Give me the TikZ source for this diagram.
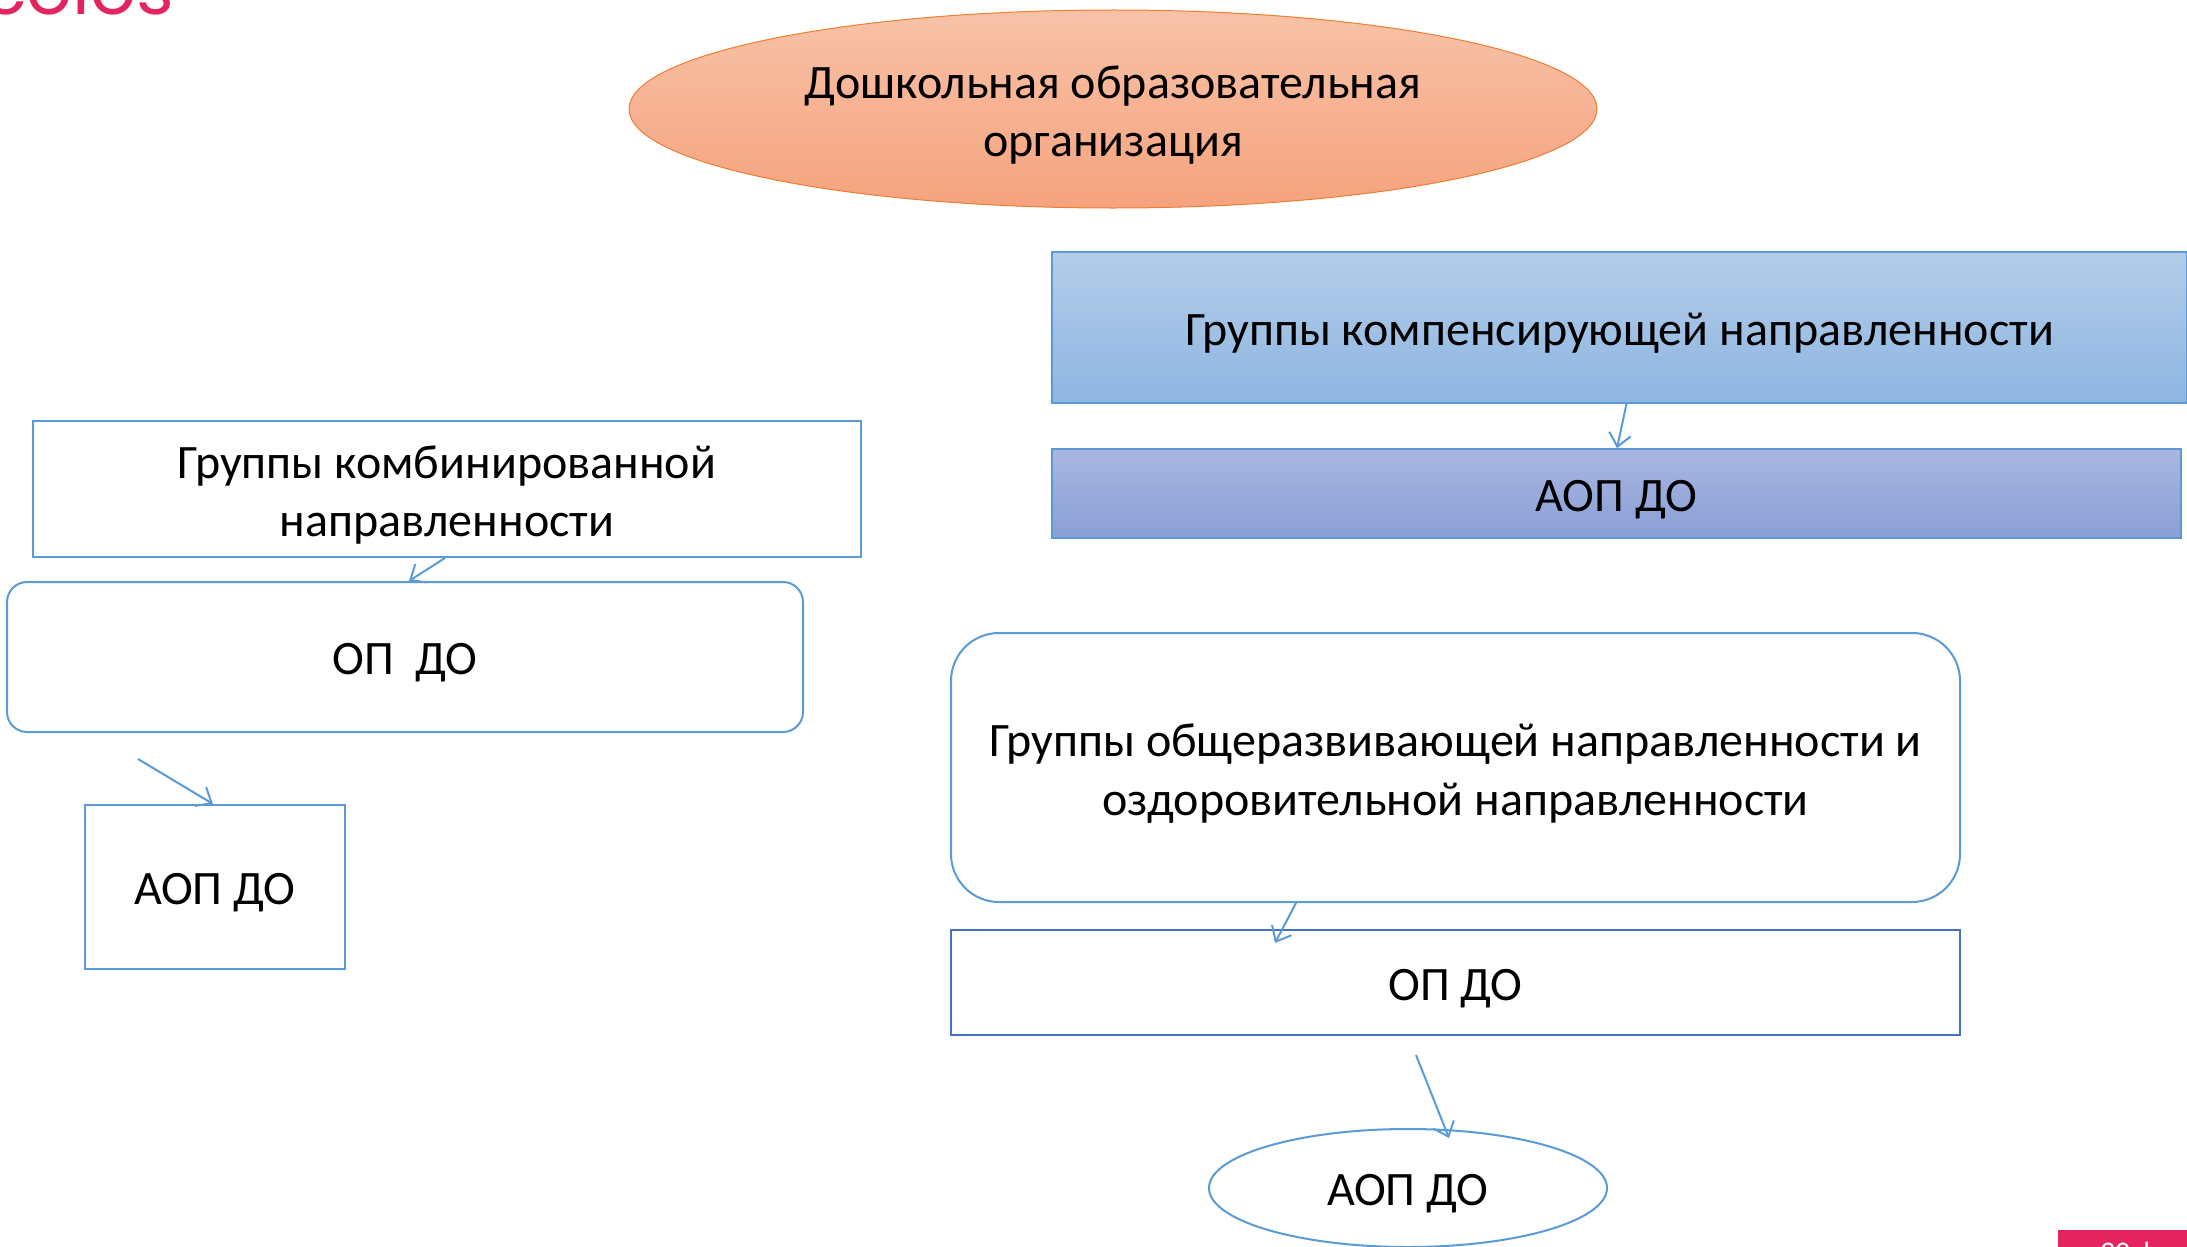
\documentclass[tikz,border=0pt]{standalone}
\usepackage{fontspec}
\setmainfont{Carlito}
\usetikzlibrary{shapes.geometric,arrows.meta}
\definecolor{bl}{HTML}{5B9BD5}
\definecolor{dbl}{HTML}{4472C4}
\definecolor{orb}{HTML}{ED7D31}
\definecolor{pk}{HTML}{E3245F}
\definecolor{orgtop}{HTML}{F8C2A8}
\definecolor{orgbot}{HTML}{F5A37D}
\definecolor{kotop}{HTML}{B4CDE9}
\definecolor{kobot}{HTML}{8EB5E1}
\definecolor{aotop}{HTML}{A9B6E0}
\definecolor{aobot}{HTML}{899FD6}
\tikzset{
  lbl/.style={font=\fontsize{48}{58.5}\selectfont, align=center, text=black, inner sep=0pt},
  box/.style={draw=bl, line width=2pt, fill=white, inner sep=0pt},
  arr/.style={draw=bl, line width=2pt, -{Straight Barb[length=13pt,width=22pt,line width=2pt]}},
}
\newcommand{\lab}[2]{\node[lbl] (#1-t) at ([yshift=-6pt]#1.center) {#2};}
\begin{document}
\begin{tikzpicture}[x=1pt,y=-1pt]
\useasboundingbox (0,0) rectangle (2187,1247);
% corner fragments
\begin{scope}
\clip (0,0) rectangle (300,16);
\node[anchor=base west, inner sep=0pt, text=pk, font=\fontsize{72}{72}\selectfont\fontspec{Poppins}] (logo) at (-17,15) {colos};
\end{scope}
\begin{scope}
\clip (2058,1230) rectangle (2187,1247);
\fill[pk] (2058,1230) rectangle (2187,1247);
\node[anchor=base west, inner sep=0pt, text=white, font=\fontsize{30}{30}\selectfont] (date) at (2100,1262) {30 февраля};
\end{scope}
% nodes
\node[ellipse, draw=orb, line width=1pt, top color=orgtop, bottom color=orgbot, minimum width=968, minimum height=198, inner sep=0pt] (org) at (1113,109) {};
\node[rectangle, draw=bl, line width=1.5pt, top color=kotop, bottom color=kobot, minimum width=1135, minimum height=151, inner sep=0pt] (komp) at (1619.5,327.5) {};
\node[rectangle, draw=bl, line width=1.5pt, top color=aotop, bottom color=aobot, minimum width=1129, minimum height=89, inner sep=0pt] (aopa) at (1616.5,493.5) {};
\node[box, minimum width=828, minimum height=136] (komb) at (447,489) {};
\node[box, rounded corners=20pt, minimum width=796, minimum height=150] (opa) at (405,657) {};
\node[box, minimum width=260, minimum height=164] (aopb) at (215,887) {};
\node[box, rounded corners=48pt, minimum width=1009, minimum height=269] (obsh) at (1455.5,767.5) {};
\node[box, draw=dbl, minimum width=1009, minimum height=105] (opb) at (1455.5,982.5) {};
\node[box, ellipse, minimum width=398, minimum height=118] (aopc) at (1408,1188) {};
% labels
\lab{org}{Дошкольная образовательная\\организация}
\lab{komp}{Группы компенсирующей направленности}
\lab{aopa}{АОП ДО}
\lab{komb}{Группы комбинированной\\направленности}
\lab{opa}{ОП\ \ ДО}
\lab{aopb}{АОП ДО}
\lab{obsh}{Группы общеразвивающей направленности и\\оздоровительной направленности}
\lab{opb}{ОП ДО}
\lab{aopc}{АОП ДО}
% connectors
\coordinate (free) at (138,759);
\draw[arr] ([xshift=7pt]komp.south) -- ([xshift=0.5pt]aopa.north);
\draw[arr] ([xshift=-2pt]komb.south) -- ([xshift=4pt]opa.north);
\draw[arr] (free) -- ([xshift=-2pt]aopb.north);
\draw[arr] ([xshift=-159.5pt]obsh.south) -- ([xshift=-180.5pt,yshift=-14pt]opb.north);
\draw[arr] ([xshift=-39.5pt,yshift=-19pt]opb.south) -- ([xshift=41pt,yshift=-10pt]aopc.north);
\end{tikzpicture}
\end{document}
